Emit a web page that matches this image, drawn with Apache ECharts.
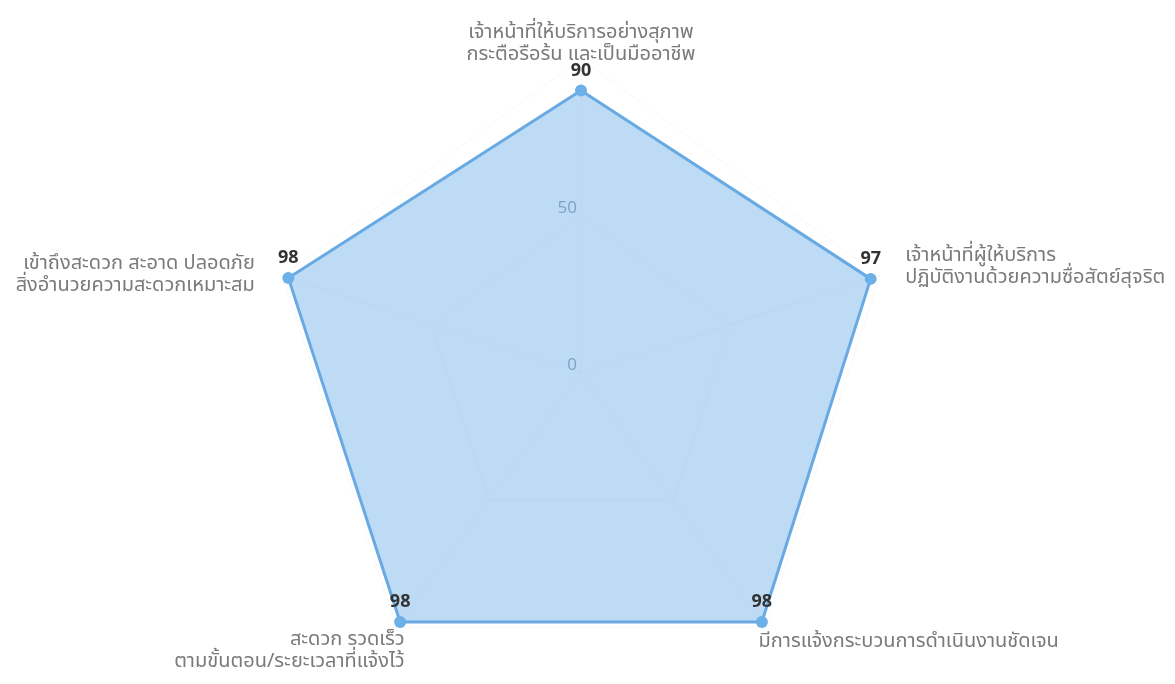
<!DOCTYPE html>
<html>
<head>
<meta charset="utf-8">
<script src="https://cdn.jsdelivr.net/npm/echarts@6/dist/echarts.min.js"></script>
<style>
html,body{margin:0;padding:0;background:#fff;}
#c{width:1175px;height:684px;}
</style>
</head>
<body>
<div id="c"></div>
<script>
const indicatorNames = [
  'เจ้าหน้าที่ให้บริการอย่างสุภาพ\nกระตือรือร้น และเป็นมืออาชีพ',
  'เข้าถึงสะดวก สะอาด ปลอดภัย\nสิ่งอำนวยความสะดวกเหมาะสม',
  'สะดวก รวดเร็ว\nตามขั้นตอน/ระยะเวลาที่แจ้งไว้',
  'มีการแจ้งกระบวนการดำเนินงานชัดเจน',
  'เจ้าหน้าที่ผู้ให้บริการ\nปฏิบัติงานด้วยความซื่อสัตย์สุจริต'
];
const scores = [90, 98, 98, 98, 97];
const axisMin = 0;
const axisMax = 100;

const nameFont = "'Noto Sans Thai','Noto Sans','Open Sans',sans-serif";
const nameLayouts = [
  { nameGap: -8, nameTextStyle: {} },
  { nameGap: 29, topShift: true, nameTextStyle: { align: 'right' } },
  { nameGap: -14, nameTextStyle: { align: 'right', verticalAlign: 'top', padding: [14, 0, 0, 0] } },
  { nameGap: -12, nameTextStyle: { align: 'left', verticalAlign: 'top', padding: [15, 0, 0, 0] } },
  { nameGap: 27, nameTextStyle: { align: 'left' } }
];

const indicators = indicatorNames.map((n, i) => Object.assign({
  name: n, min: axisMin, max: axisMax,
  axisLabel: { show: i === 0 }
}, nameLayouts[i]));

const chart = echarts.init(document.getElementById('c'), null, { renderer: 'canvas' });
chart.setOption({
  animation: false,
  backgroundColor: '#ffffff',
  radar: {
    center: [581, 373],
    radius: 314,
    startAngle: 90,
    splitNumber: 2,
    shape: 'polygon',
    indicator: indicators,
    axisName: {
      color: '#7a7a7a',
      fontSize: 20,
      lineHeight: 22,
      fontFamily: nameFont,
      rich: { sp: { lineHeight: 18, fontSize: 1 } },
      formatter: (name, ind) => (ind && ind.topShift ? '{sp|}\n' + name : name)
    },
    axisLine: { lineStyle: { color: 'rgba(120,140,160,0.06)', width: 1 } },
    splitLine: { lineStyle: { color: 'rgba(120,140,160,0.06)', width: 1 } },
    splitArea: { show: false },
    axisTick: { show: false },
    axisLabel: {
      show: false,
      color: '#909ca6',
      fontSize: 17,
      lineHeight: 16,
      verticalAlign: 'bottom',
      margin: 4,
      fontFamily: "'Open Sans',sans-serif",
      formatter: v => (v === axisMax ? '' : String(v))
    }
  },
  series: [{
    type: 'radar',
    symbol: 'circle',
    symbolSize: 12,
    lineStyle: { color: '#6aaae2', width: 3 },
    itemStyle: { color: '#6cb0e8' },
    areaStyle: { color: 'rgba(100,170,230,0.42)', opacity: 1 },
    label: {
      show: true,
      position: 'top',
      distance: 5,
      color: '#333333',
      fontSize: 18,
      fontWeight: 'bold',
      fontFamily: "'Open Sans',sans-serif"
    },
    data: [{ value: scores }]
  }]
});
</script>
</body>
</html>
